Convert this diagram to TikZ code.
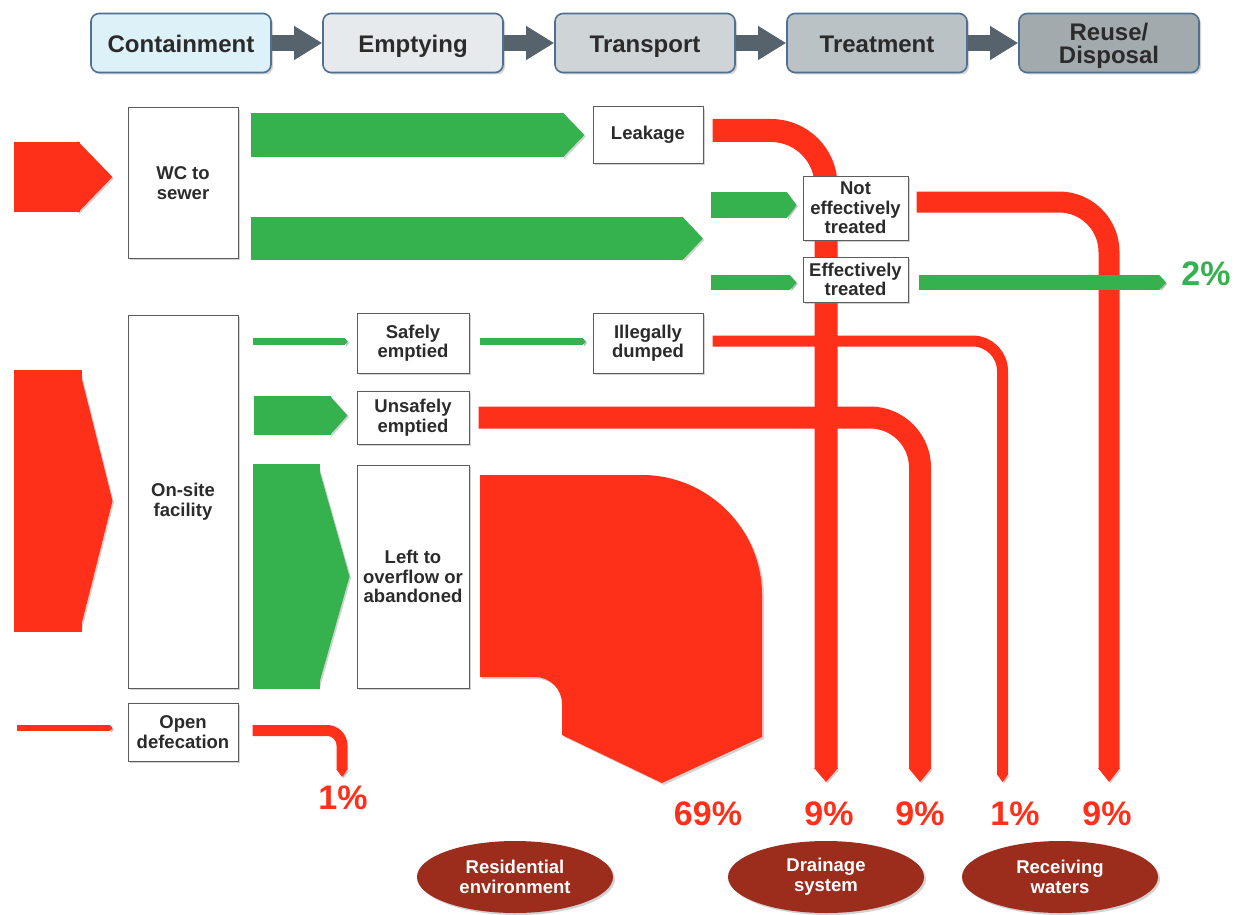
\documentclass[tikz,border=0pt]{standalone}
\usepackage{fontspec}
\setmainfont{Liberation Sans}
\usetikzlibrary{arrows.meta,shapes.geometric,shadows,calc}
\definecolor{sfdred}{HTML}{FF3019}
\definecolor{sfdgreen}{HTML}{35B14D}
\definecolor{sfdbrown}{HTML}{9C2C1C}
\definecolor{hdrline}{HTML}{4F7090}
\definecolor{hdrarrow}{HTML}{56626C}
\definecolor{txtdark}{HTML}{2B2B2B}
\definecolor{boxline}{HTML}{5C5C5C}
\definecolor{hdrA}{HTML}{DDF1F8}
\definecolor{hdrB}{HTML}{E7EAEC}
\definecolor{hdrC}{HTML}{CFD4D7}
\definecolor{hdrD}{HTML}{BAC2C6}
\definecolor{hdrE}{HTML}{A2AAAE}
\pgfdeclarelayer{back}
\pgfdeclarelayer{bg}
\pgfsetlayers{bg,back,main}
\begin{document}
\begin{tikzpicture}[x=1pt,y=-1pt,
 softshadow/.style={drop shadow={opacity=0.35, shadow xshift=2pt, shadow yshift=-2pt}},
 hdr/.style={draw=hdrline, line width=1.6pt, rounded corners=8pt, minimum width=180pt, minimum height=59pt, inner sep=0pt, font=\fontsize{24}{23}\selectfont\bfseries, text=txtdark, align=center, text height=19pt, text depth=0pt, softshadow},
 hdr2/.style={hdr, text height=, text depth=0pt},
 hdrflow/.style={draw=hdrarrow, line width=16pt, -{Triangle[length=28pt,width=32pt]}},
 sbox/.style={draw=boxline, line width=1pt, fill=white, inner sep=0pt, align=center, font=\fontsize{18.5}{19.5}\selectfont\bfseries, text=txtdark, softshadow},
 pct/.style={font=\fontsize{34}{34}\selectfont\bfseries, text=sfdred, inner sep=0pt},
 sink/.style={ellipse, fill=sfdbrown, minimum width=196pt, minimum height=72pt, inner sep=0pt, align=center, text=white, font=\fontsize{18.5}{20}\selectfont\bfseries, softshadow},
 flowshadow/.style={preaction={draw=black, opacity=0.18, transform canvas={shift={(1.5pt,-1.5pt)}}}},
 gflow/.style 2 args={draw=sfdgreen, line width=#1, -{Triangle[length=#2,width=#1]}, flowshadow},
 rflow/.style 2 args={draw=sfdred, line width=#1, -{Triangle[length=#2,width=#1]}, flowshadow},
 rpipe/.style n args={3}{rflow={#1}{#2}, rounded corners=#3},
]
\useasboundingbox (0,0) rectangle (1242,915);
\begin{pgfonlayer}{bg}
\fill[white] (0,0) rectangle (1242,915);
\end{pgfonlayer}

% header chain
\node[hdr, fill=hdrA] (cont) at (181,43) {Containment};
\node[hdr, fill=hdrB] (empt) at (413,43) {Emptying};
\node[hdr, fill=hdrC] (trans) at (645,43) {Transport};
\node[hdr, fill=hdrD] (treat) at (877,43) {Treatment};
\node[hdr2, fill=hdrE] (reuse) at (1109,43) {Reuse/\\Disposal};
\draw[hdrflow] (cont.east) -- (empt.west);
\draw[hdrflow] (empt.east) -- (trans.west);
\draw[hdrflow] (trans.east) -- (treat.west);
\draw[hdrflow] (treat.east) -- (reuse.west);

% boxes
\node[sbox, minimum width=110pt, minimum height=150pt] (wc) at (183,183) {WC to\\sewer};
\node[sbox, minimum width=110pt, minimum height=373pt] (onsite) at (183,501.5) {On-site\\facility};
\node[sbox, minimum width=110pt, minimum height=58pt] (open) at (183,732) {Open\\defecation};
\node[sbox, minimum width=110pt, minimum height=56pt] (leak) at (648,135) {Leakage};
\node[sbox, minimum width=105pt, minimum height=64pt] (nottr) at (855.5,208) {Not\\effectively\\treated};
\node[sbox, minimum width=105pt, minimum height=45pt] (efftr) at (855.5,279.5) {Effectively\\treated};
\node[sbox, minimum width=112pt, minimum height=60pt] (safe) at (413,343) {Safely\\emptied};
\node[sbox, minimum width=110pt, minimum height=60pt] (illeg) at (648,343) {Illegally\\dumped};
\node[sbox, minimum width=112pt, minimum height=53pt] (unsafe) at (413,417.5) {Unsafely\\emptied};
\node[sbox, minimum width=112pt, minimum height=223pt] (left) at (413,576.5) {Left to\\overflow or\\abandoned};

% sinks
\node[sink] (res) at (515,877) {Residential\\environment};
\node[sink] (drain) at (826,877) {Drainage\\system};
\node[sink] (recv) at (1060,877) {Receiving\\waters};

% percentages
\node[pct] (p1a) at (343,798) {1\%};
\node[pct] (p69) at (708,814) {69\%};
\node[pct] (p9a) at (829,814) {9\%};
\node[pct] (p9b) at (920,814) {9\%};
\node[pct] (p1b) at (1015,814) {1\%};
\node[pct] (p9c) at (1107,814) {9\%};
\node[pct, text=sfdgreen] (p2) at (1206,274) {2\%};

% free ends
\coordinate (t0) at (342,777);
\coordinate (t1) at (826,782);
\coordinate (t2) at (920,782);
\coordinate (t3) at (1002.5,782);
\coordinate (t4) at (1109,782);
\coordinate (b2end) at (703,238.5);
\coordinate (g5end) at (1166,282.5);
\coordinate (wcsrc) at (14,177);
\coordinate (ossrc) at (14,501);
\coordinate (odsrc) at (17,728);

\begin{pgfonlayer}{back}
% inputs
\draw[rflow={70pt}{35pt}, shorten >=15pt] (wcsrc) -- (wcsrc -| wc.west);
\draw[rflow={262pt}{33pt}, shorten >=15pt] (ossrc) -- (ossrc -| onsite.west);
\draw[rflow={6pt}{3pt}, shorten >=15pt] (odsrc) -- (odsrc -| open.west);

% big red flow
\fill[sfdred, softshadow] (480,475) -- (642,475) .. controls (708,475) and (762,529) .. (762,595) -- (762,737) -- (662,783) -- (562,735) -- (562,704) .. controls (562,689) and (550,677) .. (535,677) -- (480,677) -- cycle;

% red pipes
\draw[rpipe={23pt}{14pt}{55pt}] ([xshift=9pt,yshift=4.5pt]leak.east) -| (t1);
\draw[rpipe={21pt}{14pt}{50pt}] ([xshift=8pt,yshift=6pt]nottr.east) -| (t4);
\draw[rpipe={11pt}{8pt}{30pt}] ([xshift=9pt,yshift=2pt]illeg.east) -| (t3);
\draw[rpipe={22pt}{14pt}{50pt}] ([xshift=9pt]unsafe.east) -| (t2);
\draw[rpipe={11pt}{8pt}{15pt}] ([xshift=14pt,yshift=1.5pt]open.east) -| (t0);

% green flows
\draw[gflow={44pt}{22pt}, shorten <=12pt, shorten >=8pt] (wc.east |- leak.west) -- (leak.west);
\draw[gflow={43pt}{21pt}, shorten <=12pt] (wc.east |- b2end) -- (b2end);
\draw[gflow={26pt}{10pt}] ([xshift=-92pt,yshift=3pt]nottr.west) -- ([xshift=-6pt,yshift=3pt]nottr.west);
\draw[gflow={15pt}{7pt}] ([xshift=-92pt,yshift=-3pt]efftr.west) -- ([xshift=-6pt,yshift=-3pt]efftr.west);
\draw[gflow={15pt}{7pt}] ([xshift=10pt,yshift=-3pt]efftr.east) -- (g5end);
\draw[gflow={7pt}{3pt}, shorten <=14pt, shorten >=9pt] ([yshift=1.5pt]onsite.east |- safe.west) -- ([yshift=1.5pt]safe.west);
\draw[gflow={7pt}{3pt}, shorten <=10pt, shorten >=7pt] ([yshift=1.5pt]safe.east) -- ([yshift=1.5pt]safe.east -| illeg.west);
\draw[gflow={39pt}{18pt}, shorten <=15pt, shorten >=9pt] ([yshift=2pt]onsite.east |- unsafe.west) -- ([yshift=2pt]unsafe.west);
\draw[gflow={225pt}{32pt}, shorten <=14pt, shorten >=7pt] (onsite.east |- left.west) -- (left.west);
\end{pgfonlayer}
\end{tikzpicture}
\end{document}
